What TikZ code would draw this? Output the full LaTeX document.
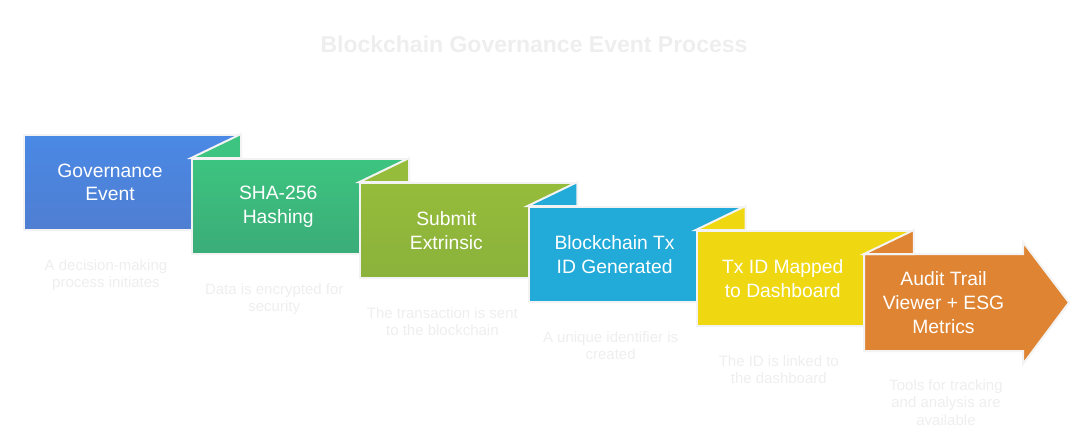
\documentclass[tikz,border=0pt]{standalone}
\usepackage{fontspec}
\setmainfont{Liberation Sans}
\usepackage{tikz}
\usetikzlibrary{positioning, calc}
\definecolor{GovBlue}{HTML}{4A89E5}
\definecolor{GovBlueLow}{HTML}{4F7ED2}
\definecolor{HashGreen}{HTML}{3DC480}
\definecolor{HashGreenLow}{HTML}{3BAC78}
\definecolor{SubmitOlive}{HTML}{95BC3A}
\definecolor{SubmitOliveLow}{HTML}{8BB23B}
\definecolor{TxCyan}{HTML}{22AAD8}
\definecolor{MapYellow}{HTML}{EFD812}
\definecolor{AuditOrange}{HTML}{DF8432}
\definecolor{Rim}{HTML}{F3F3F3}
\definecolor{Faint}{HTML}{EEEEEE}

\begin{document}
\begin{tikzpicture}[x=1pt, y=-1pt,
    stepbox/.style={rectangle, draw=Rim, line width=2pt, minimum width=216pt,
                    minimum height=95pt, anchor=north west, inner sep=0pt},
    flap/.style={draw=Rim, line width=2pt, line join=miter},
    steptext/.style={text=white, align=center, font=\fontsize{19.3}{23.7}\selectfont},
    desctext/.style={text=Faint, align=center, anchor=north, inner sep=0pt,
                     font=\fontsize{15}{17.7}\selectfont}]
\useasboundingbox (0,0) rectangle (1092,445);

\node[text=Faint, anchor=base, font=\bfseries\fontsize{23}{28}\selectfont] (title)
    at (534,52) {Blockchain Governance Event Process};

% governance event
\node[stepbox, top color=GovBlue, bottom color=GovBlueLow] (gov) at (23,134) {};
\node[steptext] (govtext) at ($(gov.west)+(87,0)$) {Governance\\Event};
\node[desctext] (govdesc) at ($(gov.south west)+(83,28)$) {A decision-making\\process initiates};

% hashing
\node[stepbox, top color=HashGreen, bottom color=HashGreenLow] (hash) at (191.2,158) {};
\draw[flap, fill=HashGreen] (hash.north west) -- (gov.north east) -- (gov.north east |- hash.north) -- cycle;
\node[steptext] (hashtext) at ($(hash.west)+(87,0)$) {SHA-256\\Hashing};
\node[desctext] (hashdesc) at ($(hash.south west)+(83,28)$) {Data is encrypted for\\security};

% extrinsic
\node[stepbox, top color=SubmitOlive, bottom color=SubmitOliveLow] (submit) at (359.4,182) {};
\draw[flap, fill=SubmitOlive] (submit.north west) -- (hash.north east) -- (hash.north east |- submit.north) -- cycle;
\node[steptext] (submittext) at ($(submit.west)+(87,0)$) {Submit\\Extrinsic};
\node[desctext] (submitdesc) at ($(submit.south west)+(83,28)$) {The transaction is sent\\to the blockchain};

% tx id
\node[stepbox, fill=TxCyan] (txid) at (527.6,206) {};
\draw[flap, fill=TxCyan] (txid.north west) -- (submit.north east) -- (submit.north east |- txid.north) -- cycle;
\node[steptext] (txidtext) at ($(txid.west)+(87,0)$) {Blockchain Tx\\ID Generated};
\node[desctext] (txiddesc) at ($(txid.south west)+(83,28)$) {A unique identifier is\\created};

% mapped to dashboard
\node[stepbox, fill=MapYellow] (mapped) at (695.8,230) {};
\draw[flap, fill=MapYellow] (mapped.north west) -- (txid.north east) -- (txid.north east |- mapped.north) -- cycle;
\node[steptext] (mappedtext) at ($(mapped.west)+(87,0)$) {Tx ID Mapped\\to Dashboard};
\node[desctext] (mappeddesc) at ($(mapped.south west)+(83,28)$) {The ID is linked to\\the dashboard};

% audit trail arrow
\node[stepbox, draw=none, minimum width=157pt] (audit) at (864,254) {};
\draw[flap, fill=AuditOrange] (audit.north west) -- (audit.north east) -- ++(0,-12)
    -- ($(audit.east)+(46,0)$) -- ($(audit.south east)+(0,13)$) -- (audit.south east)
    -- (audit.south west) -- cycle;
\draw[flap, fill=AuditOrange] (audit.north west) -- (mapped.north east) -- (mapped.north east |- audit.north) -- cycle;
\node[steptext] (audittext) at (audit.center) {Audit Trail\\Viewer + ESG\\Metrics};
\node[desctext] (auditdesc) at ($(audit.south west)+(82,28)$) {Tools for tracking\\and analysis are\\available};
\end{tikzpicture}
\end{document}
